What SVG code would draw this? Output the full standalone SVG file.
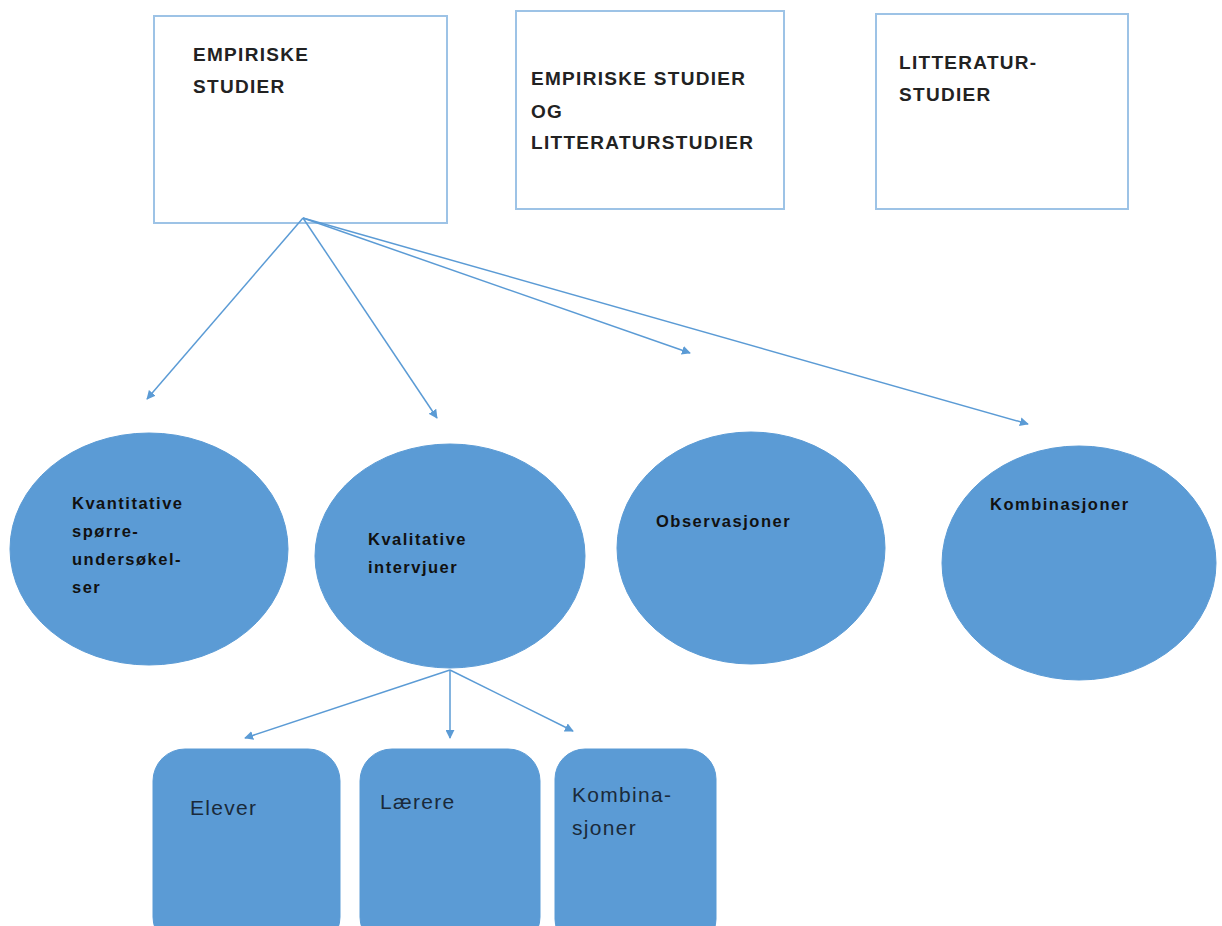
<svg xmlns="http://www.w3.org/2000/svg" width="1222" height="926" viewBox="0 0 1222 926">
<style>
.box{fill:#fff;stroke:#9dc3e6;stroke-width:2}
.ell{fill:#5b9bd5;stroke:#5b9bd5;stroke-width:1}
.rr{fill:#5b9bd5;stroke:#5b9bd5;stroke-width:1}
.hd{font-family:"Liberation Sans",Arial,sans-serif;font-weight:bold;font-size:19px;letter-spacing:1.3px;fill:#222}
.el{font-family:"Liberation Sans",Arial,sans-serif;font-weight:bold;font-size:16.5px;letter-spacing:1.5px;fill:#111}
.rt{font-family:"Liberation Sans",Arial,sans-serif;font-size:21px;letter-spacing:1.3px;fill:#1a2a3a}
.con line{stroke:#5b9bd5;stroke-width:1.5;marker-end:url(#ah)}
</style>
<defs>
<marker id="ah" viewBox="0 0 10 10" refX="9" refY="5" markerWidth="9" markerHeight="9" markerUnits="userSpaceOnUse" orient="auto">
<path d="M0,0 L10,5 L0,10 z" fill="#5b9bd5"/>
</marker>
</defs>
<rect width="1222" height="926" fill="#fff"/>
<g id="box-empiriske">
<rect class="box" x="154" y="16" width="293" height="207"/>
<text class="hd" x="193" y="61">EMPIRISKE</text>
<text class="hd" x="193" y="93">STUDIER</text>
</g>
<g id="box-begge">
<rect class="box" x="516" y="11" width="268" height="198"/>
<text class="hd" x="531" y="85">EMPIRISKE STUDIER</text>
<text class="hd" x="531" y="118">OG</text>
<text class="hd" x="531" y="149">LITTERATURSTUDIER</text>
</g>
<g id="box-litteratur">
<rect class="box" x="876" y="14" width="252" height="195"/>
<text class="hd" x="899" y="69">LITTERATUR-</text>
<text class="hd" x="899" y="101">STUDIER</text>
</g>
<g id="ell-kvantitative">
<ellipse class="ell" cx="149" cy="549" rx="139" ry="116"/>
<text class="el" x="72" y="509">Kvantitative</text>
<text class="el" x="72" y="537">spørre-</text>
<text class="el" x="72" y="565">undersøkel-</text>
<text class="el" x="72" y="593">ser</text>
</g>
<g id="ell-kvalitative">
<ellipse class="ell" cx="450" cy="556" rx="135" ry="112"/>
<text class="el" x="368" y="545">Kvalitative</text>
<text class="el" x="368" y="573">intervjuer</text>
</g>
<g id="ell-observasjoner">
<ellipse class="ell" cx="751" cy="548" rx="134" ry="116"/>
<text class="el" x="656" y="527">Observasjoner</text>
</g>
<g id="ell-kombinasjoner">
<ellipse class="ell" cx="1079" cy="563" rx="137" ry="117"/>
<text class="el" x="990" y="510">Kombinasjoner</text>
</g>
<g id="rr-elever">
<rect class="rr" x="153" y="749" width="187" height="200" rx="32"/>
<text class="rt" x="190" y="815">Elever</text>
</g>
<g id="rr-laerere">
<rect class="rr" x="360" y="749" width="180" height="200" rx="32"/>
<text class="rt" x="380" y="809">Lærere</text>
</g>
<g id="rr-kombinasjoner">
<rect class="rr" x="555" y="749" width="161" height="200" rx="30"/>
<text class="rt" x="572" y="802">Kombina-</text>
<text class="rt" x="572" y="835">sjoner</text>
</g>
<g id="connectors" class="con">
<line x1="303" y1="218" x2="147" y2="399"/>
<line x1="303" y1="218" x2="437" y2="418"/>
<line x1="303" y1="218" x2="690" y2="353"/>
<line x1="303" y1="218" x2="1028" y2="424"/>
<line x1="450" y1="670" x2="245" y2="738"/>
<line x1="450" y1="670" x2="450" y2="738"/>
<line x1="450" y1="670" x2="573" y2="731"/>
</g>
</svg>
